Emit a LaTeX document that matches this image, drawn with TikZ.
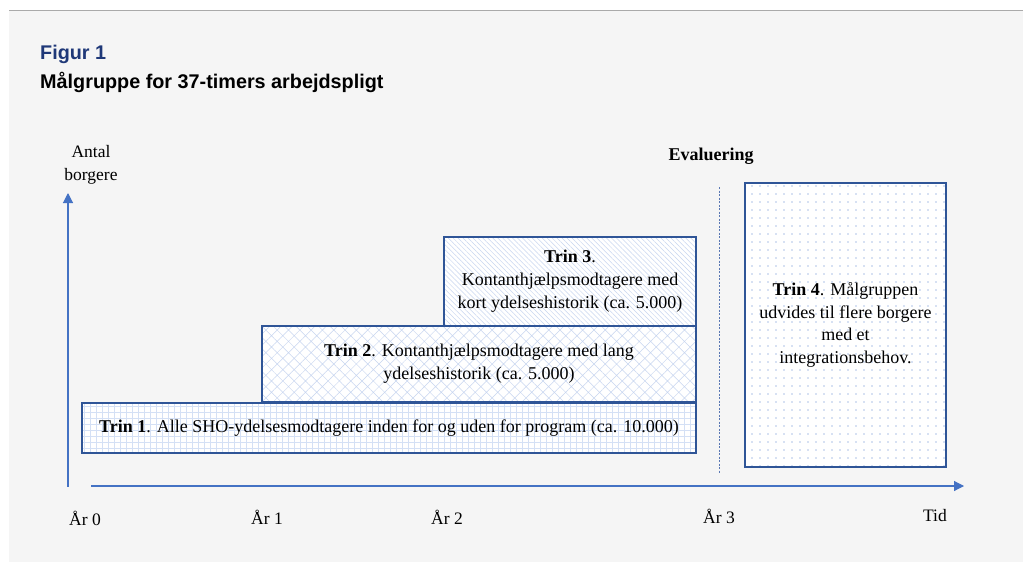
\documentclass[tikz,border=0pt]{standalone}
\usepackage{fontspec}
\setmainfont{Liberation Serif}
\newfontfamily\arialfont{Liberation Sans}
\usetikzlibrary{patterns.meta,arrows.meta}
\definecolor{bgcol}{RGB}{245,245,245}
\definecolor{topline}{RGB}{170,170,170}
\definecolor{boxcol}{RGB}{47,85,151}
\definecolor{axiscol}{RGB}{68,114,196}
\definecolor{patcol}{RGB}{200,214,240}
\definecolor{gridcol}{RGB}{212,224,245}
\definecolor{dotcol}{RGB}{175,195,232}
\definecolor{titlecol}{RGB}{31,56,120}
\definecolor{dashcol}{RGB}{90,120,180}
\tikzset{
  stagebox/.style={draw=boxcol, line width=1.6pt, preaction={fill=white}, inner sep=0pt, align=center, font=\fontsize{18}{23}\selectfont},
  axisline/.style={draw=axiscol, line width=1.1pt, -{Triangle[length=10pt,width=10pt]}},
  ticklabel/.style={font=\fontsize{17.5}{20}\selectfont, anchor=center, inner sep=0pt},
  titlefont/.style={font=\arialfont\bfseries\fontsize{19.8}{24}\selectfont},
}
\begin{document}
\begin{tikzpicture}[x=1pt,y=-1pt]
\useasboundingbox (0,0) rectangle (1023,562);
\fill[white] (0,0) rectangle (1023,562);
\fill[bgcol] (9,10) rectangle (1023,562);
\draw[topline, line width=1pt] (9,10.5) -- (1023,10.5);
% title
\node[anchor=base west, inner sep=0pt, titlefont, text=titlecol] (fig) at (40,59) {Figur 1};
\node[anchor=base west, inner sep=0pt, titlefont] (title) at (40,88) {Målgruppe for 37-timers arbejdspligt};
% boxes
\node[stagebox, minimum width=614pt, minimum height=50pt, pattern={Hatch[angle=0,distance=6pt,line width=0.4pt]}, pattern color=gridcol] (t1) at (389,428) {\textbf{Trin 1}. Alle SHO-ydelsesmodtagere inden for og uden for program (ca. 10.000)};
\node[stagebox, minimum width=434pt, minimum height=76pt, pattern={Hatch[angle=45,distance=8pt,line width=0.5pt]}, pattern color=patcol] (t2) at (479,364) {\textbf{Trin 2}. Kontanthjælpsmodtagere med lang\\ydelseshistorik (ca. 5.000)};
\node[stagebox, minimum width=252pt, minimum height=89pt, pattern={Lines[angle=-45,distance=3.5pt,line width=0.5pt]}, pattern color=patcol] (t3) at (570,281.5) {\textbf{Trin 3}.\\Kontanthjælpsmodtagere med\\kort ydelseshistorik (ca. 5.000)};
\node[stagebox, minimum width=201pt, minimum height=284pt, pattern={Dots[distance=8pt,radius=0.8pt]}, pattern color=dotcol, font=\fontsize{18}{22.5}\selectfont] (t4) at (845.5,325) {\textbf{Trin 4}. Målgruppen\\udvides til flere borgere\\med et\\integrationsbehov.};
% evaluation line
\coordinate (evtop) at (719,187);
\coordinate (evbot) at (719,473);
\draw[dashcol, line width=0.6pt, dash pattern=on 2pt off 1.5pt] (evtop) -- (evbot);
\node[font=\bfseries\fontsize{18}{20}\selectfont, inner sep=0pt] (ev) at (711,156) {Evaluering};
% axes
\coordinate (yb) at (68,486.5);
\coordinate (yt) at (68,193);
\coordinate (xb) at (91,486);
\coordinate (xt) at (964,486);
\draw[axisline] (yb) -- (yt);
\draw[axisline] (xb) -- (xt);
\node[font=\fontsize{17.5}{23}\selectfont, align=center, inner sep=0pt] (ylab) at (91,165) {Antal\\borgere};
\node[ticklabel] (a0) at (85,518) {År 0};
\node[ticklabel] (a1) at (267,517) {År 1};
\node[ticklabel] (a2) at (447,517) {År 2};
\node[ticklabel] (a3) at (719,516) {År 3};
\node[ticklabel] (tid) at (935,516) {Tid};
\end{tikzpicture}
\end{document}
